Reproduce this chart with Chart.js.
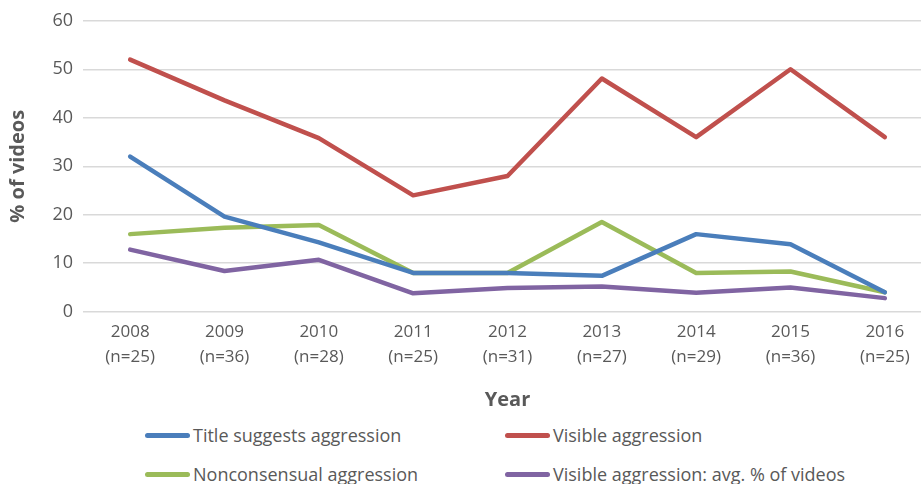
<!DOCTYPE html>
<html>
<head>
<meta charset="utf-8">
<script src="https://cdn.jsdelivr.net/npm/chart.js@4.4.0/dist/chart.umd.min.js"></script>
<style>
  html, body { margin: 0; padding: 0; background: #fff; overflow: hidden; }
  #wrap { position: relative; width: 934px; height: 418px; }
  #leyenda {
    position: absolute; left: 0; top: 418px; width: 921px;
    font-family: "Open Sans", sans-serif; font-size: 18px; color: #595959;
  }
  .item { position: absolute; display: flex; align-items: center; white-space: nowrap; line-height: 24px; }
  .item span.linea { display: inline-block; width: 45px; height: 5px; border-radius: 3px; margin-right: 3px; }
</style>
</head>
<body>
<div id="wrap"><canvas id="grafico"></canvas></div>
<div id="leyenda"></div>
<script>
// Datos
const anios = ['2008', '2009', '2010', '2011', '2012', '2013', '2014', '2015', '2016'];
const muestras = ['(n=25)', '(n=36)', '(n=28)', '(n=25)', '(n=31)', '(n=27)', '(n=29)', '(n=36)', '(n=25)'];
const tituloSugiere = [32, 19.6, 14.3, 8, 8, 7.4, 16, 13.9, 4];
const agresionVisible = [52, 43.6, 35.8, 24, 28, 48.1, 36, 50, 36];
const noConsensual = [16, 17.3, 17.9, 8, 8, 18.5, 8, 8.3, 4];
const visiblePromedio = [12.8, 8.4, 10.7, 3.8, 4.9, 5.2, 3.9, 5.0, 2.8];
const ticksY = [0, 10, 20, 30, 40, 50, 60];

const colores = {
    azul: '#4a7ebb',
    rojo: '#c0504d',
    verde: '#9bbb59',
    morado: '#8064a2',
    texto: '#595959',
    grilla: '#d9d9d9'
};

const fuente = '"Open Sans", sans-serif';

const series = [
    { label: 'Title suggests aggression', data: tituloSugiere, color: colores.azul },
    { label: 'Visible aggression', data: agresionVisible, color: colores.rojo },
    { label: 'Nonconsensual aggression', data: noConsensual, color: colores.verde },
    { label: 'Visible aggression: avg. % of videos', data: visiblePromedio, color: colores.morado }
];

const ctx = document.getElementById('grafico').getContext('2d');
const grafico = new Chart(ctx, {
    type: 'line',
    data: {
        labels: anios.map((a, i) => [a, muestras[i]]),
        datasets: series.map(s => ({
            label: s.label,
            data: s.data,
            borderColor: s.color,
            backgroundColor: s.color,
            borderWidth: 4.5,
            pointRadius: 0,
            tension: 0,
            borderCapStyle: 'round',
            borderJoinStyle: 'round'
        }))
    },
    options: {
        responsive: true,
        maintainAspectRatio: false,
        animation: false,
        layout: { padding: { top: 6, right: 2, left: 0, bottom: 6 } },
        plugins: {
            legend: { display: false },
            tooltip: { enabled: false }
        },
        scales: {
            x: {
                offset: true,
                grid: { display: false },
                border: { display: false },
                ticks: {
                    color: colores.texto,
                    font: { family: fuente, size: 17, lineHeight: 1.45 },
                    padding: 0,
                    maxRotation: 0,
                    autoSkip: false
                },
                title: {
                    display: true,
                    text: 'Year',
                    color: colores.texto,
                    font: { family: fuente, size: 20, weight: 'bold' },
                    padding: { top: 19, bottom: 0 }
                }
            },
            y: {
                min: ticksY[0],
                max: ticksY[ticksY.length - 1],
                afterBuildTicks: (escala) => {
                    escala.ticks = ticksY.map(v => ({ value: v }));
                },
                afterFit: (escala) => { escala.width = 83; },
                grid: { color: colores.grilla, lineWidth: 1.5, drawTicks: false },
                border: { display: false },
                ticks: {
                    color: colores.texto,
                    font: { family: fuente, size: 18 },
                    padding: 10
                },
                title: {
                    display: true,
                    text: '% of videos',
                    color: colores.texto,
                    font: { family: fuente, size: 20, weight: 'bold' },
                    padding: { top: 6, bottom: 0 }
                }
            }
        }
    }
});

// Leyenda en dos columnas
const posiciones = [
    { left: 145, top: 5 }, { left: 505, top: 5 },
    { left: 145, top: 44 }, { left: 505, top: 44 }
];
const leyenda = document.getElementById('leyenda');
grafico.data.datasets.forEach((ds, i) => {
    const el = document.createElement('div');
    el.className = 'item';
    el.style.left = posiciones[i].left + 'px';
    el.style.top = posiciones[i].top + 'px';
    el.innerHTML = `<span class="linea" style="background:${ds.borderColor}"></span><span>${ds.label}</span>`;
    leyenda.appendChild(el);
});
</script>
</body>
</html>
